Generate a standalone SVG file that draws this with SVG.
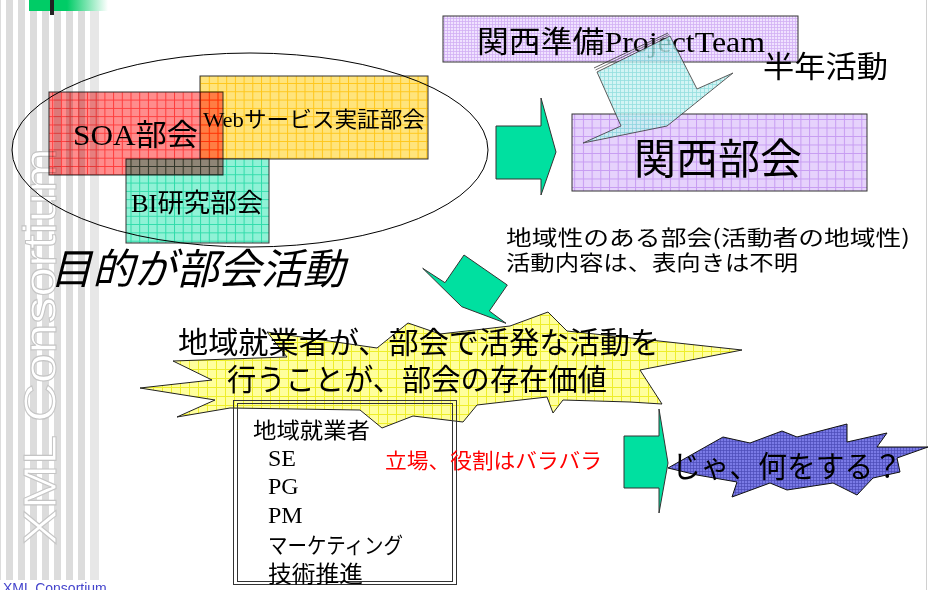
<svg xmlns="http://www.w3.org/2000/svg" width="928" height="590" viewBox="0 0 928 590">
<style>
.jp{font-family:"Noto Sans CJK JP","Noto Sans",sans-serif;fill:#000}
.sr{font-family:"Liberation Serif","Noto Sans CJK JP",serif;fill:#000}
.st{stroke:#333;stroke-width:1}
.stripe{fill:#dcdcdc}
</style>
<defs>
<pattern id="pSOA" width="8.7" height="8.3" patternUnits="userSpaceOnUse"><rect width="9" height="9" fill="#ff8c8c"/><path d="M0 0.5H9M0.5 0V9" stroke="#ff3c3c" stroke-width="1"/></pattern>
<pattern id="pWeb" width="8.7" height="8.3" patternUnits="userSpaceOnUse"><rect width="9" height="9" fill="#ffe47c"/><path d="M0 0.5H9M0.5 0V9" stroke="#ffc61a" stroke-width="1"/></pattern>
<pattern id="pBI" width="8.7" height="8.3" patternUnits="userSpaceOnUse"><rect width="9" height="9" fill="#8ff2d6"/><path d="M0 0.5H9M0.5 0V9" stroke="#2fdcaa" stroke-width="1"/></pattern>
<pattern id="pPT" width="3" height="3" patternUnits="userSpaceOnUse"><rect width="3" height="3" fill="#f0e2ff"/><path d="M0 0.5H3M0.5 0V3" stroke="#d2b0f4" stroke-width="0.8"/></pattern>
<pattern id="pKS" width="8.7" height="8.5" patternUnits="userSpaceOnUse"><rect width="9" height="9" fill="#e6d2fc"/><path d="M0 0.5H9M0.5 0V9" stroke="#c79cf2" stroke-width="1"/></pattern>
<pattern id="pCy" width="4" height="4" patternUnits="userSpaceOnUse"><rect width="4" height="4" fill="#c8f2f2"/><path d="M0 0.5H4M0.5 0V4" stroke="#7ad8d8" stroke-width="0.8"/></pattern>
<pattern id="pY" width="9" height="9" patternUnits="userSpaceOnUse"><rect width="9" height="9" fill="#ffff9c"/><path d="M0 0.5H9M0.5 0V9" stroke="#eeee2a" stroke-width="1"/></pattern>
<pattern id="pBl" width="3" height="3" patternUnits="userSpaceOnUse"><rect width="3" height="3" fill="#7a7ae6"/><path d="M0 0.5H3M0.5 0V3" stroke="#4a4ab8" stroke-width="0.7"/></pattern>
<linearGradient id="gTop" x1="0" x2="1" y1="0" y2="0"><stop offset="0" stop-color="#00cc66"/><stop offset="1" stop-color="#ffffff"/></linearGradient>
</defs>
<rect width="928" height="590" fill="#fff"/>
<g id="background">
<rect class="stripe" x="-6" y="0" width="7" height="580"/>
<rect class="stripe" x="6" y="0" width="7" height="580"/>
<rect class="stripe" x="18" y="0" width="7" height="580"/>
<rect class="stripe" x="30" y="0" width="7" height="580"/>
<rect class="stripe" x="42" y="0" width="7" height="580"/>
<rect class="stripe" x="54" y="0" width="7" height="580"/>
<rect class="stripe" x="66" y="0" width="7" height="580"/>
<rect class="stripe" x="78" y="0" width="7" height="580"/>
<rect x="90" y="0" width="9" height="580" fill="#e7e7e7"/>
<rect x="29" y="0" width="39" height="11" fill="#00cc66"/>
<rect x="67" y="0" width="41" height="11" fill="url(#gTop)"/>
<rect x="50" y="0" width="4" height="15" fill="#222"/>
<line x1="926.5" y1="0" x2="926.5" y2="590" stroke="#d0d0d0" stroke-width="1"/>
<text transform="translate(56,545) rotate(-90)" font-family="Liberation Sans, sans-serif" font-size="46" fill="#fff" stroke="#c4c4c4" stroke-width="1" textLength="397" lengthAdjust="spacingAndGlyphs">XML Consortium</text>
<text x="3" y="593" font-family="Liberation Sans, sans-serif" font-size="14" fill="#4444cc">XML Consortium</text>
</g>
<g id="web">
<rect x="200" y="76" width="228" height="83" fill="url(#pWeb)" class="st"/>
<text class="sr" x="203" y="127" font-size="22" textLength="222" lengthAdjust="spacingAndGlyphs">Webサービス実証部会</text>
</g>
<g id="bi">
<rect x="126" y="159" width="143" height="84" fill="url(#pBI)" class="st"/>
<text class="sr" x="131" y="212" font-size="26" textLength="132" lengthAdjust="spacingAndGlyphs">BI研究部会</text>
</g>
<g id="soa">
<rect x="49" y="92" width="174" height="83" fill="url(#pSOA)" class="st" style="mix-blend-mode:multiply"/>
<text class="sr" x="73" y="145" font-size="30" textLength="125" lengthAdjust="spacingAndGlyphs">SOA部会</text>
</g>
<g id="group-ellipse">
<ellipse cx="250" cy="150" rx="238" ry="97" fill="none" stroke="#000" stroke-width="1"/>
<text class="jp" x="50" y="284" font-size="42" font-style="italic" textLength="295" lengthAdjust="spacingAndGlyphs">目的が部会活動</text>
</g>
<g id="project-team">
<rect x="443" y="16" width="355" height="46" fill="url(#pPT)" class="st"/>
<text class="sr" x="477" y="52" font-size="30" textLength="288" lengthAdjust="spacingAndGlyphs">関西準備ProjectTeam</text>
</g>
<g id="kansai">
<rect x="572" y="114" width="295" height="77" fill="url(#pKS)" class="st"/>
<text class="jp" x="634" y="174" font-size="42" textLength="168" lengthAdjust="spacingAndGlyphs">関西部会</text>
</g>
<g id="half-year">
<text class="jp" x="763" y="77" font-size="30" textLength="125" lengthAdjust="spacingAndGlyphs">半年活動</text>
</g>
<g id="note">
<text class="jp" x="506" y="245" font-size="21" textLength="404" lengthAdjust="spacingAndGlyphs">地域性のある部会(活動者の地域性)</text>
<text class="jp" x="506" y="270" font-size="21" textLength="292" lengthAdjust="spacingAndGlyphs">活動内容は、表向きは不明</text>
</g>
<g id="value-burst">
<polygon points="140,388 212,380 173,361 287,357 267,332 377,348 408,323 440,334 510,326 548,312 567,331 742,350 640,370 662,404 630,402 563,400 553,413 547,397 477,405 463,422 413,416 382,428 360,410 230,408 177,417 215,400" fill="url(#pY)" stroke="#222" stroke-width="1"/>
<text class="jp" x="178" y="353" font-size="30" textLength="482" lengthAdjust="spacingAndGlyphs">地域就業者が、部会で活発な活動を</text>
<text class="jp" x="227" y="390" font-size="30" textLength="380" lengthAdjust="spacingAndGlyphs">行うことが、部会の存在価値</text>
</g>
<g id="workers">
<rect x="233.5" y="400.5" width="223" height="184" fill="none" stroke="#333" stroke-width="1"/>
<rect x="237.5" y="403.5" width="215" height="178" fill="none" stroke="#333" stroke-width="1"/>
<text class="jp" x="253" y="438" font-size="22" textLength="117" lengthAdjust="spacingAndGlyphs">地域就業者</text>
<text class="sr" x="268" y="466" font-size="24">SE</text>
<text class="sr" x="268" y="494" font-size="24">PG</text>
<text class="sr" x="268" y="523" font-size="24">PM</text>
<text class="jp" x="268" y="553" font-size="22" textLength="135" lengthAdjust="spacingAndGlyphs">マーケティング</text>
<text class="jp" x="268" y="582" font-size="23" textLength="95" lengthAdjust="spacingAndGlyphs">技術推進</text>
</g>
<g id="roles">
<text x="385" y="468" font-family="Noto Sans CJK JP, sans-serif" font-size="21" fill="#ff0000" textLength="217" lengthAdjust="spacingAndGlyphs">立場、役割はバラバラ</text>
</g>
<g id="question">
<polygon points="668,468 723,437 750,443 782,431 797,437 847,424 847,442 887,433 877,447 928,447 897,458 900,472 873,478 857,495 833,483 787,490 770,483 732,497 737,482 697,475" fill="url(#pBl)" stroke="#111" stroke-width="1"/>
<text class="jp" x="672" y="477" font-size="30" textLength="230" lengthAdjust="spacingAndGlyphs">じゃ、何をする？</text>
</g>
<g id="connectors">
<polygon points="496,126 541,126 541,98 556,152 541,195 541,179 496,179" fill="#00e0a0" class="st"/>
<g opacity="0.8">
<polygon points="597,72 670,36 697,89 733,73 667,126 583,143 621,126" fill="url(#pCy)" stroke="#333" stroke-width="1"/>
<line x1="594" y1="68" x2="668" y2="33" stroke="#333" stroke-width="1"/>
<line x1="595.5" y1="70" x2="669" y2="34.5" stroke="#333" stroke-width="0.8"/>
</g>
<polygon points="422.7,268.3 445,282.7 464,255 507.3,285 489.3,311 506,323.3 461.7,306.7" fill="#00e0a0" class="st"/>
<polygon points="624,436 659,436 659,409 668,463 659,513 659,488 624,488" fill="#00e0a0" class="st"/>
</g>
</svg>
